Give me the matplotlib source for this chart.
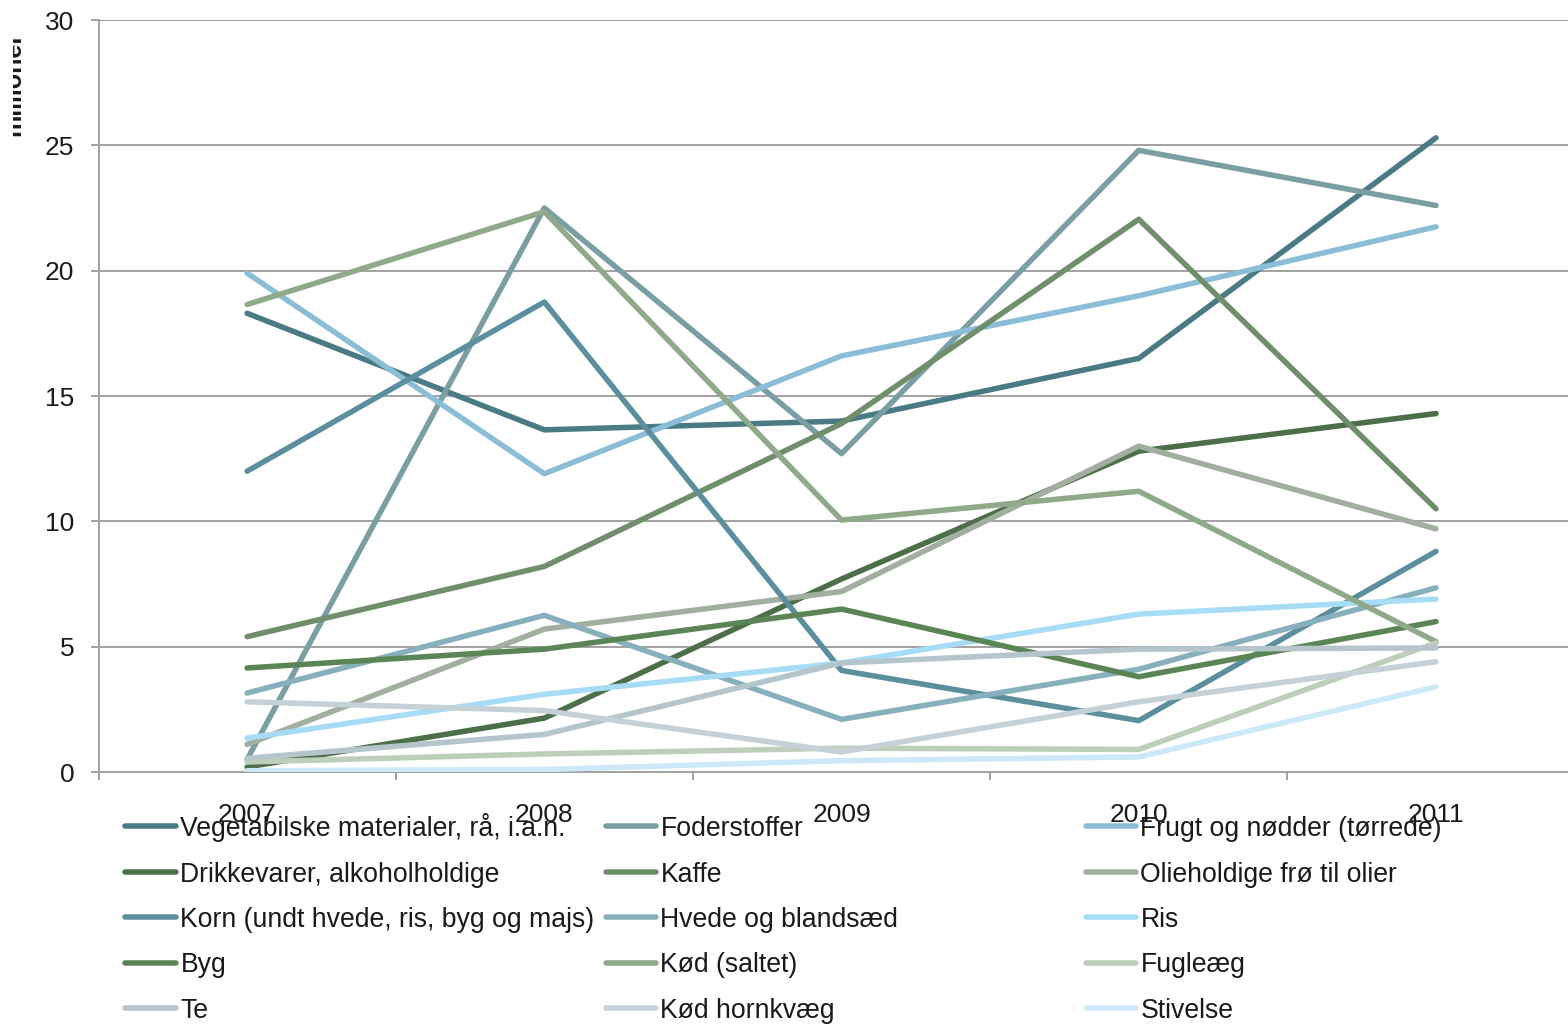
import matplotlib
matplotlib.use("Agg")
import matplotlib.pyplot as plt
from matplotlib.lines import Line2D
from matplotlib.transforms import Bbox, TransformedBbox

plt.rcParams['font.family'] = ['Liberation Sans', 'DejaVu Sans']

# ---- data (millioner) ----
years = ['2007', '2008', '2009', '2010', '2011']

vegetabilske = [18.3, 13.65, 14.0, 16.5, 25.3]
foderstoffer = [0.5, 22.5, 12.7, 24.8, 22.6]
frugt = [19.9, 11.9, 16.6, 19.0, 21.75]
drikkevarer = [0.2, 2.15, 7.7, 12.8, 14.3]
kaffe = [5.4, 8.2, 13.9, 22.05, 10.5]
olieholdige = [1.1, 5.7, 7.2, 13.0, 9.7]
korn = [12.0, 18.75, 4.05, 2.05, 8.8]
hvede = [3.15, 6.25, 2.1, 4.1, 7.35]
ris = [1.35, 3.1, 4.35, 6.3, 6.9]
byg = [4.15, 4.9, 6.5, 3.8, 6.0]
kod_saltet = [18.65, 22.35, 10.05, 11.2, 5.2]
fugleaeg = [0.4, 0.72, 0.95, 0.9, 5.15]
te = [0.55, 1.5, 4.35, 4.9, 4.95]
kod_hornkvaeg = [2.8, 2.45, 0.8, 2.8, 4.4]
stivelse = [0.05, 0.1, 0.45, 0.6, 3.4]

labels = [
    'Vegetabilske materialer, rå, i.a.n.', 'Foderstoffer', 'Frugt og nødder (tørrede)',
    'Drikkevarer, alkoholholdige', 'Kaffe', 'Olieholdige frø til olier',
    'Korn (undt hvede, ris, byg og majs)', 'Hvede og blandsæd', 'Ris',
    'Byg', 'Kød (saltet)', 'Fugleæg',
    'Te', 'Kød hornkvæg', 'Stivelse',
]
series = [
    vegetabilske, foderstoffer, frugt,
    drikkevarer, kaffe, olieholdige,
    korn, hvede, ris,
    byg, kod_saltet, fugleaeg,
    te, kod_hornkvaeg, stivelse,
]
colors = [
    '#4a7b84', '#7a9ea3', '#8bbdd6',
    '#4c6e48', '#718e6c', '#a2ae9f',
    '#5b8f9d', '#88b0bc', '#a6dcf6',
    '#5c8557', '#8fa98a', '#bdcfbb',
    '#b4c5cc', '#c5d1d6', '#cde8f6',
]

W, H = 1568, 1026
DPI = 100
fig = plt.figure(figsize=(W / DPI, H / DPI), dpi=DPI)
fig.patch.set_facecolor('white')

# plot area in pixel terms (extends slightly past the right edge)
left_px, right_px, top_px, bottom_px = 98.5, 1584.6, 20, 772
ax = fig.add_axes([left_px / W, 1 - bottom_px / H,
                   (right_px - left_px) / W, (bottom_px - top_px) / H])

grid_col = '#a3a3a3'
text_col = '#1a1a1a'
lw_px = 5.5
lw = lw_px * 72 / DPI

x = list(range(len(years)))
for vals, col, lab in zip(series, colors, labels):
    ax.plot(x, vals, color=col, lw=lw, solid_capstyle='round',
            solid_joinstyle='round', label=lab, zorder=3)

ax.set_xlim(-0.5, len(years) - 0.5)
ax.set_ylim(0, 30)
ax.set_yticks(range(0, 31, 5))
ax.yaxis.grid(True, color=grid_col, lw=2 * 72 / DPI)
ax.set_axisbelow(True)

ax.set_xticks([i - 0.5 for i in range(len(years) + 1)])
ax.set_xticklabels([])
ax.set_xticks(x, minor=True)
ax.set_xticklabels(years, minor=True)

for s in ['top', 'right']:
    ax.spines[s].set_visible(False)
for s in ['left', 'bottom']:
    ax.spines[s].set_color(grid_col)
    ax.spines[s].set_linewidth(2 * 72 / DPI)

tick_len = 8 * 72 / DPI
ax.tick_params(axis='both', which='major', direction='out', length=tick_len,
               width=2 * 72 / DPI, color=grid_col, labelsize=19, labelcolor=text_col)
ax.tick_params(axis='y', which='major', pad=16 * 72 / DPI)
ax.tick_params(axis='x', which='minor', length=0, labelsize=19,
               labelcolor=text_col, pad=31 * 72 / DPI)

# axis title, partly cut by the left edge of the chart
ylab = fig.text(25 / W, 1 - 84 / H, 'millioner', rotation=90, ha='right', va='center',
                fontsize=18, fontweight='bold', color=text_col)
ylab.set_clip_on(True)
ylab.set_clip_box(TransformedBbox(Bbox.from_extents(13 / W, 0, 1, 1), fig.transFigure))

# legend: three fixed-width columns, filled row by row
col_x = [123, 603, 1083]
row_y0, row_dy = 826, 45.5
for i, (lab, col) in enumerate(zip(labels, colors)):
    r, c = divmod(i, 3)
    x0 = col_x[c]
    yy = row_y0 + r * row_dy
    fig.add_artist(Line2D([(x0 + 2.5) / W, (x0 + 52.5) / W], [1 - yy / H, 1 - yy / H],
                          transform=fig.transFigure, color=col, lw=lw,
                          solid_capstyle='round'))
    fig.text((x0 + 57.5) / W, 1 - (yy + 10) / H, lab, ha='left', va='baseline',
             fontsize=19.2, color=text_col)

fig.savefig('out.png', dpi=DPI, facecolor='white')
